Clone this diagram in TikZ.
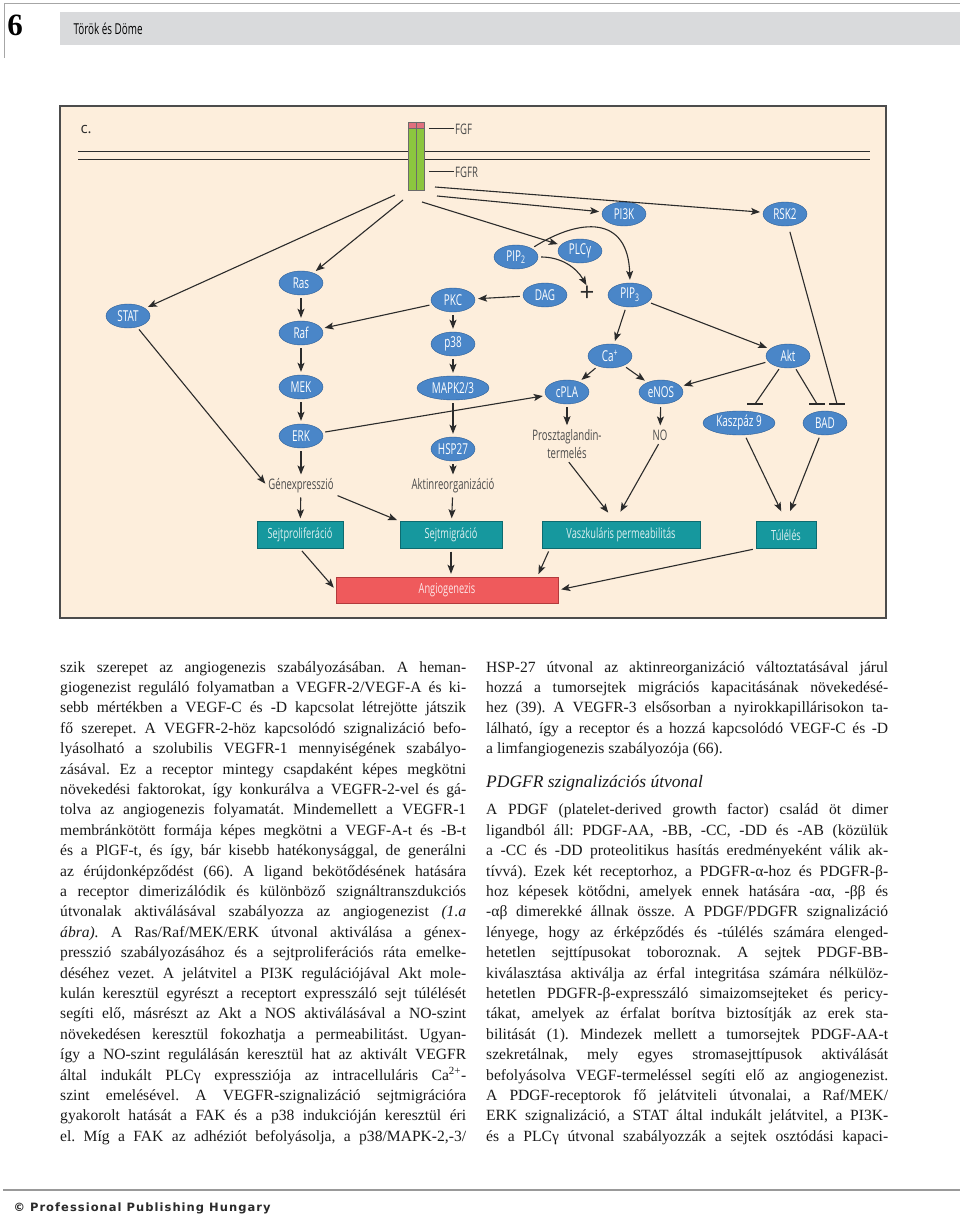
\documentclass[tikz,border=0pt]{standalone}
\usepackage{fontspec}
\setmainfont{Liberation Serif}
\newfontfamily\condf[FakeStretch=0.66]{Open Sans}
\newfontfamily\plainsf{Open Sans}
\newfontfamily\logof[LetterSpace=9]{DejaVu Sans}
\usetikzlibrary{positioning, arrows.meta, calc, shapes.geometric}

\definecolor{figbg}{HTML}{FDEEDC}
\definecolor{molblue}{HTML}{4A86C8}
\definecolor{molline}{HTML}{2D5E96}
\definecolor{effteal}{HTML}{16989E}
\definecolor{tealline}{HTML}{0D6B70}
\definecolor{angred}{HTML}{EF5A5C}
\definecolor{redline}{HTML}{B23A3C}
\definecolor{recgreen}{HTML}{8CC63F}
\definecolor{recred}{HTML}{E0707E}
\definecolor{ink}{HTML}{2B2B2B}
\definecolor{headgray}{HTML}{D9DADC}

\tikzset{
  mol/.style={ellipse, draw=molline, fill=molblue, text=white, font=\condf\fontsize{15}{15}\selectfont, minimum width=44pt, minimum height=24pt, inner sep=0pt},
  widemol/.style={mol, minimum width=72pt},
  lbl/.style={text=ink!85, font=\condf\fontsize{14.5}{18}\selectfont, inner sep=1pt, align=center},
  effect/.style={rectangle, draw=tealline, fill=effteal, text=white!85!effteal, font=\condf\fontsize{14}{14}\selectfont, minimum height=27pt, inner sep=0pt},
  goal/.style={rectangle, draw=redline, fill=angred, text=white!85!angred, font=\condf\fontsize{14}{14}\selectfont, minimum width=222pt, minimum height=26pt, inner sep=0pt},
  sig/.style={color=ink, line width=1.1pt, -{Stealth[length=9pt,width=7pt,inset=2pt]}, shorten >=3pt, shorten <=3pt},
  blk/.style={draw=ink, line width=1.1pt},
  bodyline/.style={anchor=base west, inner sep=0pt, text=black!90, font=\fontsize{15.6}{20}\selectfont},
}

\begin{document}
\frenchspacing
\begin{tikzpicture}[x=1pt, y=-1pt, on grid]
\useasboundingbox (0,0) rectangle (960,1217);

% page header
\fill[headgray] (60,12) rectangle (960,45);
\draw[gray!70, line width=0.8pt] (4,58) -- (4,3) -- (960,3);
\node[font=\fontsize{31}{31}\selectfont\bfseries] (pageno) at (15,25) {6};
\node[anchor=west, font=\condf\fontsize{15}{15}\selectfont] (authors) at (70,29) {Török és Döme};

% figure
\draw[fill=figbg, draw=gray!60!black, line width=1.2pt] (60,106) rectangle (886,618);
\node[anchor=west, font=\plainsf\fontsize{15}{15}\selectfont, text=ink] (panel) at (77,130) {c.};
\draw[blk, line width=1pt] (78,152) -- (870,152) (78,160) -- (870,160);

\node[draw=ink!70, fill=recgreen, minimum width=16pt, minimum height=68pt, inner sep=0pt] (rec) at (416,156) {};
\filldraw[draw=ink!70, fill=recred] (rec.north west) rectangle ($(rec.north east)+(0,6.5)$);
\draw[ink!70] (rec.north) -- (rec.south);
\node[lbl, anchor=west] (fgf) at (454,129) {FGF};
\node[lbl, anchor=west] (fgfr) at (454,172) {FGFR};
\draw[blk, line width=1pt] (fgf.west) -- ++(-25,0);
\draw[blk, line width=1pt] (fgfr.west) -- ++(-25,0);

\coordinate (o1) at (395,195);
\coordinate (o2) at (403,200);
\coordinate (o3) at (422,202);
\coordinate (o4) at (437,196);
\coordinate (o5) at (435,187);

\node[mol] (stat) at (128,316) {STAT};
\node[mol] (ras) at (301,283) {Ras};
\node[mol, below=50pt of ras] (raf) {Raf};
\node[mol, below=54pt of raf] (mek) {MEK};
\node[mol, below=49pt of mek] (erk) {ERK};
\node[lbl, below=50pt of erk] (gen) {Génexpresszió};
\node[mol] (pkc) at (453,300) {PKC};
\node[mol, below=44pt of pkc] (p38) {p38};
\node[widemol, below=44pt of p38] (mapk) {MAPK2/3};
\node[mol, below=61pt of mapk] (hsp) {HSP27};
\node[lbl, below=37pt of hsp] (aktin) {Aktinreorganizáció};
\node[mol] (pik) at (624,214) {PI3K};
\node[mol] (rsk) at (785,214) {RSK2};
\node[mol] (pip2) at (516,257) {PIP\textsubscript{2}};
\node[mol] (plc) at (580,251) {PLCγ};
\node[mol] (dag) at (545,295) {DAG};
\node[font=\plainsf\fontsize{26}{26}\selectfont, text=ink, inner sep=0pt] (plus) at (587,294) {+};
\node[mol] (pip3) at (630,295) {PIP\textsubscript{3}};
\node[mol] (ca) at (610,356) {Ca\textsuperscript{+}};
\node[mol] (cpla) at (567,392) {cPLA};
\node[mol] (enos) at (661,392) {eNOS};
\node[mol] (akt) at (788,356) {Akt};
\node[widemol] (kasp) at (739,423) {Kaszpáz 9};
\node[mol] (bad) at (825,423) {BAD};
\node[lbl, below=52pt of cpla] (prosz) {Prosztaglandin-\\termelés};
\node[lbl] (no) at (660,435) {NO};

\node[effect, minimum width=86pt] (prolif) at (300,535) {Sejtproliferáció};
\node[effect, minimum width=102pt] (migr) at (451,535) {Sejtmigráció};
\node[effect, minimum width=158pt] (vaszk) at (621,535) {Vaszkuláris permeabilitás};
\node[effect, minimum width=60pt] (tulel) at (786,535) {Túlélés};
\node[goal] (angio) at (447,590) {Angiogenezis};

\coordinate (vin) at ($(vaszk.north)+(-6,0)$);
\coordinate (kb) at (755,404);
\coordinate (bb1) at (817,404);
\coordinate (bb2) at (837,404);

\path[sig, shorten <=0pt]
  (o1) edge (stat)
  (o2) edge (ras)
  (o3) edge (plc)
  (o4) edge (pik)
  (o5) edge (rsk);

\path[sig]
  (ras) edge (raf)
  (raf) edge (mek)
  (mek) edge (erk)
  (erk) edge (gen)
  (stat) edge (gen.west)
  (pkc) edge (raf)
  (pkc) edge (p38)
  (p38) edge (mapk)
  (mapk) edge (hsp)
  (hsp) edge (aktin)
  (dag) edge (pkc)
  (erk) edge (cpla)
  (pip3) edge (ca)
  (ca) edge (cpla)
  (ca) edge (enos)
  (pip3) edge (akt)
  (akt) edge (enos)
  (cpla) edge (prosz)
  (enos) edge (no)
  (gen) edge (prolif)
  (gen.south east) edge (migr.north west)
  (aktin) edge (migr)
  (prolif.south) edge (angio.west)
  (migr.south) edge (migr.south |- angio.north)
  ($(vaszk.south west)+(8,0)$) edge ($(angio.north east)+(-21,0)$)
  (tulel.south west) edge (angio.east);

\path[sig, shorten >=11pt]
  (prosz.south) edge (vin)
  (no.south) edge (vin)
  (kasp) edge (tulel.north)
  (bad) edge (tulel.north);

\draw[sig] (pip2.north east) .. controls (580,218) and (628,215) .. (pip3.north);
\draw[sig, shorten >=1pt] (pip2.east) to[out=0, in=120] (plus.north);

\draw[blk, shorten <=2pt] (akt) -- (kb);
\draw[blk, shorten <=2pt] (akt) -- (bb1);
\draw[blk, shorten <=6pt] (rsk) -- (bb2);
\draw[blk] ([xshift=-8pt]kb) -- ([xshift=8pt]kb);
\draw[blk] ([xshift=-8pt]bb1) -- ([xshift=8pt]bb1);
\draw[blk] ([xshift=-8pt]bb2) -- ([xshift=8pt]bb2);

% body text, left column
\foreach \row [count=\i] in {
  {szik szerepet az angiogenezis szabályozásában. A heman-},
  {giogenezist reguláló folyamatban a VEGFR-2/VEGF-A és ki-},
  {sebb mértékben a VEGF-C és -D kapcsolat létrejötte játszik},
  {fő szerepet. A VEGFR-2-höz kapcsolódó szignalizáció befo-},
  {lyásolható a szolubilis VEGFR-1 mennyiségének szabályo-},
  {zásával. Ez a receptor mintegy csapdaként képes megkötni},
  {növekedési faktorokat, így konkurálva a VEGFR-2-vel és gá-},
  {tolva az angiogenezis folyamatát. Mindemellett a VEGFR-1},
  {membránkötött formája képes megkötni a VEGF-A-t és -B-t},
  {és a PlGF-t, és így, bár kisebb hatékonysággal, de generálni},
  {az érújdonképződést (66). A ligand bekötődésének hatására},
  {a receptor dimerizálódik és különböző szignáltranszdukciós},
  {útvonalak aktiválásával szabályozza az angiogenezist \textit{(1.a}},
  {\textit{ábra).} A Ras/Raf/MEK/ERK útvonal aktiválása a génex-},
  {presszió szabályozásához és a sejtproliferációs ráta emelke-},
  {déséhez vezet. A jelátvitel a PI3K regulációjával Akt mole-},
  {kulán keresztül egyrészt a receptort expresszáló sejt túlélését},
  {segíti elő, másrészt az Akt a NOS aktiválásával a NO-szint},
  {növekedésen keresztül fokozhatja a permeabilitást. Ugyan-},
  {így a NO-szint regulálásán keresztül hat az aktivált VEGFR},
  {által indukált PLCγ expressziója az intracelluláris Ca\textsuperscript{2+}-},
  {szint emelésével. A VEGFR-szignalizáció sejtmigrációra},
  {gyakorolt hatását a FAK és a p38 indukcióján keresztül éri},
  {el. Míg a FAK az adhéziót befolyásolja, a p38/MAPK-2,-3/}}
  \node[bodyline] (left\i) at (60,{672+(\i-1)*20.4}) {\makebox[406pt][s]{\row}};

% body text, right column
\foreach \row [count=\i] in {
  {HSP-27 útvonal az aktinreorganizáció változtatásával járul},
  {hozzá a tumorsejtek migrációs kapacitásának növekedésé-},
  {hez (39). A VEGFR-3 elsősorban a nyirokkapillárisokon ta-},
  {lálható, így a receptor és a hozzá kapcsolódó VEGF-C és -D}}
  \node[bodyline] (right\i) at (486,{672+(\i-1)*20.4}) {\makebox[402pt][s]{\row}};
\node[bodyline] (right5) at (486,{672+4*20.4}) {a limfangiogenezis szabályozója (66).};
\node[anchor=base west, inner sep=0pt, text=black!90, font=\fontsize{17.5}{20}\selectfont\itshape] (heading) at (486,787) {PDGFR szignalizációs útvonal};
\foreach \row [count=\i from 6] in {
  {A PDGF (platelet-derived growth factor) család öt dimer},
  {ligandból áll: PDGF-AA, -BB, -CC, -DD és -AB (közülük},
  {a -CC és -DD proteolitikus hasítás eredményeként válik ak-},
  {tívvá). Ezek két receptorhoz, a PDGFR-α-hoz és PDGFR-β-},
  {hoz képesek kötődni, amelyek ennek hatására -αα, -ββ és},
  {-αβ dimerekké állnak össze. A PDGF/PDGFR szignalizáció},
  {lényege, hogy az érképződés és -túlélés számára elenged-},
  {hetetlen sejttípusokat toboroznak. A sejtek PDGF-BB-},
  {kiválasztása aktiválja az érfal integritása számára nélkülöz-},
  {hetetlen PDGFR-β-expresszáló simaizomsejteket és pericy-},
  {tákat, amelyek az érfalat borítva biztosítják az erek sta-},
  {bilitását (1). Mindezek mellett a tumorsejtek PDGF-AA-t},
  {szekretálnak, mely egyes stromasejttípusok aktiválását},
  {befolyásolva VEGF-termeléssel segíti elő az angiogenezist.},
  {A PDGF-receptorok fő jelátviteli útvonalai, a Raf/MEK/},
  {ERK szignalizáció, a STAT által indukált jelátvitel, a PI3K-},
  {és a PLCγ útvonal szabályozzák a sejtek osztódási kapaci-}}
  \node[bodyline] (right\i) at (486,{672+(\i+1)*20.4}) {\makebox[402pt][s]{\row}};

% footer
\draw[gray!80, line width=1.5pt] (3,1190) -- (960,1190);
\node[anchor=west, font=\logof\bfseries\fontsize{11.5}{12}\selectfont, text=ink] (publisher) at (10,1208) {© Professional Publishing Hungary};
\end{tikzpicture}
\end{document}
